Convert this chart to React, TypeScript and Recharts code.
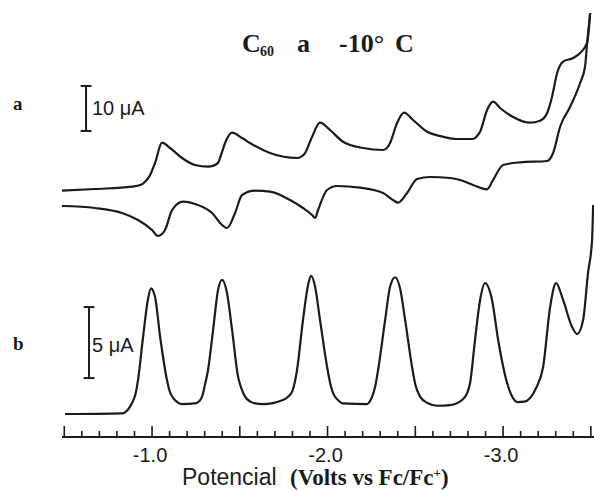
import type { FC } from 'react'
import { Line, LineChart, ReferenceLine, XAxis, YAxis } from 'recharts'

// potential in V vs Fc/Fc+, current in µA
const cvForward = [
  { v: -0.487, i: 1.62 }, { v: -0.675, i: 2.0 }, { v: -0.886, i: 2.51 }, { v: -0.94, i: 3.0 },
  { v: -0.96, i: 3.62 }, { v: -0.985, i: 4.8 }, { v: -1.017, i: 7.78 }, { v: -1.057, i: 12.29 },
  { v: -1.103, i: 11.11 }, { v: -1.171, i: 8.89 }, { v: -1.245, i: 7.33 }, { v: -1.319, i: 6.96 },
  { v: -1.35, i: 7.2 }, { v: -1.376, i: 7.84 }, { v: -1.395, i: 9.8 }, { v: -1.416, i: 12.22 },
  { v: -1.456, i: 14.51 }, { v: -1.513, i: 13.33 }, { v: -1.558, i: 12.22 }, { v: -1.672, i: 10.0 },
  { v: -1.826, i: 8.89 }, { v: -1.85, i: 9.2 }, { v: -1.872, i: 10.0 }, { v: -1.912, i: 13.62 },
  { v: -1.957, i: 16.73 }, { v: -2.014, i: 15.11 }, { v: -2.088, i: 12.51 }, { v: -2.202, i: 11.11 },
  { v: -2.316, i: 10.67 }, { v: -2.34, i: 11.2 }, { v: -2.356, i: 12.22 }, { v: -2.396, i: 16.67 },
  { v: -2.436, i: 18.96 }, { v: -2.487, i: 17.33 }, { v: -2.567, i: 14.73 }, { v: -2.641, i: 13.78 },
  { v: -2.738, i: 13.11 }, { v: -2.829, i: 13.11 }, { v: -2.85, i: 13.7 }, { v: -2.869, i: 14.73 },
  { v: -2.909, i: 19.56 }, { v: -2.943, i: 21.4 }, { v: -2.983, i: 20.0 }, { v: -3.057, i: 18.0 },
  { v: -3.154, i: 16.73 }, { v: -3.211, i: 17.18 }, { v: -3.251, i: 18.89 }, { v: -3.279, i: 22.51 },
  { v: -3.308, i: 27.78 }, { v: -3.342, i: 30.29 }, { v: -3.399, i: 31.11 }, { v: -3.439, i: 32.22 },
  { v: -3.479, i: 34.51 }, { v: -3.496, i: 41.11 },
]

const cvReverse = [
  { v: -0.487, i: -1.78 }, { v: -0.675, i: -2.22 }, { v: -0.829, i: -3.33 }, { v: -0.92, i: -4.89 },
  { v: -1.0, i: -7.11 }, { v: -1.034, i: -8.44 }, { v: -1.074, i: -7.11 }, { v: -1.114, i: -2.67 },
  { v: -1.177, i: -0.82 }, { v: -1.245, i: -1.33 }, { v: -1.342, i: -3.33 }, { v: -1.399, i: -6.0 },
  { v: -1.427, i: -6.67 }, { v: -1.473, i: -3.33 }, { v: -1.513, i: 0.67 }, { v: -1.587, i: 1.62 },
  { v: -1.672, i: 1.4 }, { v: -1.786, i: -0.44 }, { v: -1.86, i: -2.22 }, { v: -1.912, i: -3.78 },
  { v: -1.929, i: -4.44 }, { v: -1.946, i: -2.67 }, { v: -1.997, i: 1.78 }, { v: -2.054, i: 2.67 },
  { v: -2.185, i: 2.29 }, { v: -2.316, i: 1.11 }, { v: -2.373, i: -0.44 }, { v: -2.402, i: -1.04 },
  { v: -2.453, i: 1.11 }, { v: -2.51, i: 4.22 }, { v: -2.584, i: 4.67 }, { v: -2.698, i: 4.44 },
  { v: -2.755, i: 4.0 }, { v: -2.829, i: 2.89 }, { v: -2.909, i: 1.93 }, { v: -2.943, i: 4.0 },
  { v: -3.0, i: 7.33 }, { v: -3.097, i: 7.93 }, { v: -3.251, i: 8.22 }, { v: -3.285, i: 10.0 },
  { v: -3.325, i: 15.84 }, { v: -3.382, i: 20.29 }, { v: -3.439, i: 25.56 }, { v: -3.467, i: 29.18 },
  { v: -3.479, i: 34.51 }, { v: -3.496, i: 41.11 },
]

const dpv = [
  { v: -0.504, i: -0.07 }, { v: -0.829, i: -0.02 }, { v: -0.86, i: 0.2 }, { v: -0.886, i: 0.7 },
  { v: -0.905, i: 1.3 }, { v: -0.92, i: 2.32 }, { v: -0.949, i: 5.37 }, { v: -0.977, i: 8.03 },
  { v: -0.994, i: 8.78 }, { v: -1.017, i: 8.19 }, { v: -1.046, i: 5.37 }, { v: -1.085, i: 2.32 },
  { v: -1.1, i: 1.55 }, { v: -1.12, i: 1.06 }, { v: -1.14, i: 0.8 }, { v: -1.171, i: 0.63 },
  { v: -1.245, i: 0.68 }, { v: -1.27, i: 0.85 }, { v: -1.285, i: 1.15 }, { v: -1.3, i: 1.9 },
  { v: -1.319, i: 3.03 }, { v: -1.348, i: 5.85 }, { v: -1.376, i: 8.66 }, { v: -1.399, i: 9.37 },
  { v: -1.427, i: 8.45 }, { v: -1.456, i: 5.85 }, { v: -1.49, i: 2.56 }, { v: -1.51, i: 1.7 },
  { v: -1.53, i: 1.15 }, { v: -1.56, i: 0.8 }, { v: -1.587, i: 0.68 }, { v: -1.632, i: 0.63 },
  { v: -1.746, i: 0.92 }, { v: -1.775, i: 1.15 }, { v: -1.798, i: 1.5 }, { v: -1.812, i: 2.1 },
  { v: -1.826, i: 3.03 }, { v: -1.86, i: 6.55 }, { v: -1.889, i: 9.01 }, { v: -1.906, i: 9.65 },
  { v: -1.929, i: 8.89 }, { v: -1.957, i: 6.55 }, { v: -1.997, i: 3.27 }, { v: -2.015, i: 2.1 },
  { v: -2.031, i: 1.41 }, { v: -2.06, i: 0.9 }, { v: -2.088, i: 0.68 }, { v: -2.225, i: 0.63 },
  { v: -2.24, i: 0.8 }, { v: -2.254, i: 1.15 }, { v: -2.272, i: 1.9 }, { v: -2.288, i: 3.03 },
  { v: -2.328, i: 6.55 }, { v: -2.356, i: 8.89 }, { v: -2.385, i: 9.56 }, { v: -2.413, i: 8.78 },
  { v: -2.442, i: 6.55 }, { v: -2.481, i: 3.27 }, { v: -2.5, i: 2.0 }, { v: -2.527, i: 1.15 },
  { v: -2.57, i: 0.7 }, { v: -2.624, i: 0.51 }, { v: -2.698, i: 0.56 }, { v: -2.77, i: 0.95 },
  { v: -2.795, i: 1.4 }, { v: -2.812, i: 2.11 }, { v: -2.84, i: 5.14 }, { v: -2.869, i: 7.96 },
  { v: -2.897, i: 9.15 }, { v: -2.937, i: 7.96 }, { v: -2.972, i: 5.14 }, { v: -3.023, i: 2.11 },
  { v: -3.05, i: 1.2 }, { v: -3.085, i: 0.77 }, { v: -3.12, i: 0.8 }, { v: -3.154, i: 1.06 },
  { v: -3.19, i: 1.8 }, { v: -3.228, i: 3.24 }, { v: -3.268, i: 7.46 }, { v: -3.302, i: 9.15 },
  { v: -3.342, i: 7.96 }, { v: -3.393, i: 6.06 }, { v: -3.422, i: 5.56 }, { v: -3.456, i: 6.55 },
  { v: -3.484, i: 9.86 }, { v: -3.507, i: 12.18 }, { v: -3.513, i: 14.65 },
]

const potentialTicks = [
  -0.5, -0.6, -0.7, -0.8, -0.9, -1.0, -1.1, -1.2, -1.3, -1.4, -1.5, -1.6, -1.7, -1.8, -1.9, -2.0,
  -2.1, -2.2, -2.3, -2.4, -2.5, -2.6, -2.7, -2.8, -2.9, -3.0, -3.1, -3.2, -3.3, -3.4, -3.5,
]
const labeledTicks = [-1.0, -2.0, -3.0]

// scale bars: position (V) and current span (µA)
const cvScaleBar = { v: -0.624, from: 14.9, to: 24.9 }
const dpvScaleBar = { v: -0.641, from: 2.46, to: 7.46 }
const capHalf = 0.031

const INK = '#1b1b1b'
const SANS = '"Liberation Sans", Arial, sans-serif'
const SERIF = '"Liberation Serif", "Times New Roman", serif'

interface TickProps {
  x?: number
  y?: number
  payload?: { value: number }
}

const PotentialTick: FC<TickProps> = ({ x = 0, y = 0, payload }) => {
  const value = payload?.value ?? 0
  const major = Math.round(Math.abs(value) * 10) % 5 === 0
  const labeled = labeledTicks.some((t) => Math.abs(t - value) < 1e-6)
  return (
    <g>
      <line x1={x} x2={x} y1={y} y2={y - (major ? 11 : 6)} stroke={INK} strokeWidth={1.6} />
      {labeled && (
        <text x={x - 2} y={y + 25} textAnchor="middle" fontFamily={SANS} fontSize={20} fill={INK}>
          {value.toFixed(1)}
        </text>
      )}
    </g>
  )
}

const barSegments = (bar: { v: number; from: number; to: number }) => [
  [{ x: bar.v, y: bar.from }, { x: bar.v, y: bar.to }],
  [{ x: bar.v + capHalf, y: bar.from }, { x: bar.v - capHalf, y: bar.from }],
  [{ x: bar.v + capHalf, y: bar.to }, { x: bar.v - capHalf, y: bar.to }],
]

const App: FC = () => (
  <div style={{ position: 'relative', width: 594, height: 491, background: '#fff' }}>
    <style>{'body{margin:0}'}</style>
    <LineChart width={594} height={491} margin={{ top: 10, right: 0, bottom: 0, left: 62 }}>
      <XAxis
        type="number"
        dataKey="v"
        domain={[-3.518, -0.487]}
        reversed
        allowDataOverflow
        ticks={potentialTicks}
        interval={0}
        height={54}
        tickSize={0}
        tickMargin={0}
        tickLine={false}
        axisLine={{ stroke: INK, strokeWidth: 2 }}
        tick={<PotentialTick />}
      />
      <YAxis yAxisId="cv" hide domain={[-53.11, 41.78]} allowDataOverflow />
      <YAxis yAxisId="dpv" hide domain={[-1.69, 28.38]} allowDataOverflow />

      <Line yAxisId="cv" data={cvForward} dataKey="i" type="monotone" stroke={INK} strokeWidth={2.2} dot={false} isAnimationActive={false} />
      <Line yAxisId="cv" data={cvReverse} dataKey="i" type="monotone" stroke={INK} strokeWidth={2.2} dot={false} isAnimationActive={false} />
      <Line yAxisId="dpv" data={dpv} dataKey="i" type="monotone" stroke={INK} strokeWidth={2.2} dot={false} isAnimationActive={false} />

      {barSegments(cvScaleBar).map((seg, idx) => (
        <ReferenceLine key={`cv-bar-${idx}`} yAxisId="cv" segment={seg} stroke={INK} strokeWidth={2} />
      ))}
      {barSegments(dpvScaleBar).map((seg, idx) => (
        <ReferenceLine key={`dpv-bar-${idx}`} yAxisId="dpv" segment={seg} stroke={INK} strokeWidth={2} />
      ))}
    </LineChart>

    <svg width={594} height={491} style={{ position: 'absolute', left: 0, top: 0, pointerEvents: 'none' }}>
      <g fontFamily={SERIF} fontWeight="bold" fill={INK}>
        <text x={242} y={52} fontSize={26}>C</text>
        <text x={260} y={56} fontSize={14}>60</text>
        <text x={297} y={52} fontSize={26}>a</text>
        <text x={339} y={52} fontSize={26}>-10°</text>
        <text x={395} y={52} fontSize={26}>C</text>
        <text x={13} y={110} fontSize={19}>a</text>
        <text x={13} y={350} fontSize={19}>b</text>
      </g>
      <g fontFamily={SANS} fill={INK}>
        <text x={92} y={115} fontSize={20}>10 μA</text>
        <text x={92} y={352} fontSize={20}>5 μA</text>
        <text x={182} y={485} fontSize={23}>Potencial</text>
      </g>
      <text x={290} y={485} fontFamily={SERIF} fontWeight="bold" fontSize={23} fill={INK}>
        <tspan>(Volts vs Fc/Fc</tspan>
        <tspan dy={-8} fontSize={13}>+</tspan>
        <tspan dy={8}>)</tspan>
      </text>
    </svg>
  </div>
)

export default App
